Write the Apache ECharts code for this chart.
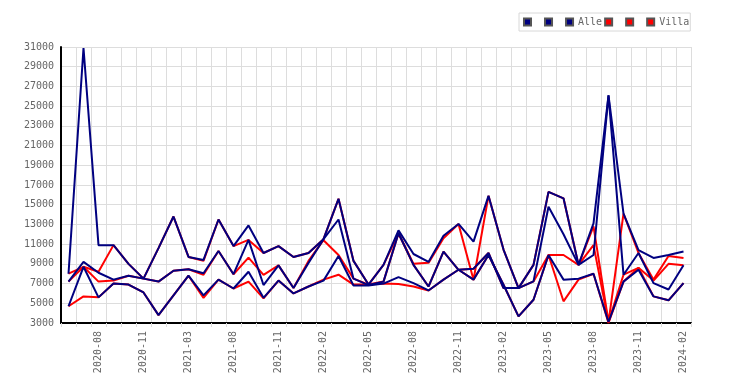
<!DOCTYPE html>
<html><head><meta charset="utf-8">
<script src="https://cdn.jsdelivr.net/npm/echarts@6/dist/echarts.min.js"></script>
<style>html,body{margin:0;padding:0;background:#fff}#c{width:750px;height:385px}</style>
</head><body><div id="c"></div>
<script>
const categories = ['2020-06','2020-07','2020-08','2020-09','2020-10','2020-11','2020-12','2021-02','2021-03','2021-05','2021-06','2021-08','2021-09','2021-10','2021-11','2021-12','2022-01','2022-02','2022-03','2022-04','2022-05','2022-06','2022-07','2022-08','2022-09','2022-10','2022-11','2022-12','2023-01','2023-02','2023-03','2023-04','2023-05','2023-06','2023-07','2023-08','2023-09','2023-10','2023-11','2023-12','2024-01','2024-02'];
const alleHigh = [8000,30900,10900,10900,9000,7500,10600,13800,9700,9400,13500,10800,12900,10100,10800,9700,10100,11500,15600,9300,6900,8900,12400,10000,9200,11850,13050,11260,15900,10450,6540,8900,16300,15650,8900,13100,26100,14100,10400,9600,9900,10250];
const alleMid = [7200,9200,8100,7400,7800,7500,7200,8300,8450,8050,10300,7950,11430,6850,8850,6550,9100,11500,13500,7500,6850,7200,12100,8900,6700,10250,8400,8500,10100,6540,6540,7220,14800,12000,8900,9900,26100,7900,10100,7050,6400,8850];
const alleLow = [4700,8700,5600,7000,6900,6100,3800,5800,7800,5800,7400,6500,8200,5550,7300,6000,6700,7300,9800,6800,6800,7000,7650,7050,6300,7400,8400,7400,9900,6880,3670,5360,9900,7400,7500,8000,3100,7200,8400,5700,5300,7050];
const villaHigh = [8000,8700,8200,10900,9000,7500,10600,13800,9700,9300,13500,10800,11430,10100,10800,9700,10100,11500,15600,9300,6900,8900,12100,9000,9100,11600,13050,7390,15900,10450,6540,8900,16300,15650,8900,12800,3100,14100,10100,7400,9800,9600];
const villaMid = [7200,8700,7200,7300,7800,7500,7200,8300,8450,7900,10300,7950,9640,7890,8850,6550,9300,11400,9900,7500,6900,7200,12100,8900,6700,10250,8400,8500,10100,6540,6540,7220,9900,9900,8900,10900,3100,7900,8600,7300,9000,8850];
const villaLow = [4700,5700,5600,7000,6900,6100,3800,5800,7800,5550,7400,6500,7200,5500,7300,6000,6700,7400,7900,6900,6900,7000,6950,6700,6300,7400,8400,7400,9900,6880,3670,5360,9900,5200,7400,8000,3000,7200,8600,5700,5300,7050];
const yTicksMin = 3000, yTicksMax = 31000, yTickStep = 2000;

const NAVY = '#000080', RED = '#ff0000';
const mk = (name, data, color, z) => ({
  name, type: 'line', data, z, symbol: 'none', showSymbol: false, animation: false,
  lineStyle: { color, width: 2 }, itemStyle: { color, borderColor: '#555', borderWidth: 1 }
});
const chart = echarts.init(document.getElementById('c'), null, { renderer: 'canvas' });
const FONT = 'DejaVu Sans Mono';
chart.setOption({
  animation: false,
  grid: { left: 61, right: 59, top: 47, bottom: 62, containLabel: false },
  legend: {
    data: ['Alle_a','Alle_b','Alle','Villa_a','Villa_b','Villa'],
    formatter: n => (n === 'Alle' || n === 'Villa') ? n : ' ',
    left: 519, top: 13, icon: 'rect', itemWidth: 7, itemHeight: 7, itemGap: 2,
    padding: [4, 1, 4, 4], borderColor: '#d8d8d8', borderWidth: 1,
    textStyle: { fontFamily: FONT, fontSize: 10, color: '#666' }
  },
  xAxis: {
    type: 'category', data: categories, boundaryGap: true,
    axisLine: { lineStyle: { color: '#000', width: 2 } },
    axisTick: { show: true, interval: 0, length: 4, lineStyle: { color: '#ddd' } },
    splitLine: { show: true, interval: 0, lineStyle: { color: '#ddd', width: 1 } },
    axisLabel: { rotate: 90, interval: (i) => i % 3 === 2, fontFamily: FONT, fontSize: 10, color: '#666', margin: 8 }
  },
  yAxis: {
    type: 'value', min: yTicksMin, max: yTicksMax, interval: yTickStep,
    axisLine: { show: true, lineStyle: { color: '#000', width: 2 } },
    axisTick: { show: false },
    splitLine: { lineStyle: { color: '#ddd', width: 1 } },
    axisLabel: { fontFamily: FONT, fontSize: 10, color: '#666', margin: 7, formatter: v => String(v) }
  },
  series: [
    mk('Alle_a', alleHigh, NAVY, 5),
    mk('Alle_b', alleMid, NAVY, 5),
    mk('Alle', alleLow, NAVY, 5),
    mk('Villa_a', villaHigh, RED, 3),
    mk('Villa_b', villaMid, RED, 3),
    mk('Villa', villaLow, RED, 3)
  ]
});
</script></body></html>
